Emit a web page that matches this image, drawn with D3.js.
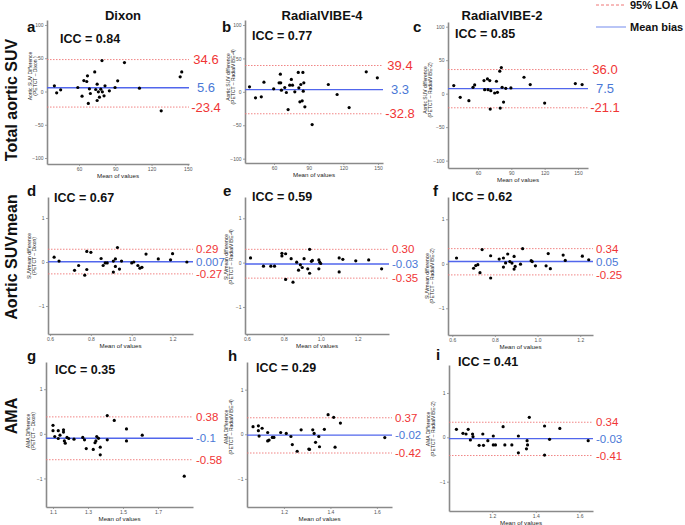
<!DOCTYPE html>
<html><head><meta charset="utf-8">
<script src="https://cdn.jsdelivr.net/npm/d3@7"></script>
<style>
body{margin:0;background:#fff}
svg{display:block}
text{font-family:"Liberation Sans",Arial,Helvetica,sans-serif}
</style>
</head><body>
<svg id="chart" width="685" height="525"></svg>
<script>
// ---------------- DATA ----------------
const columnTitles = ["Dixon", "RadialVIBE-4", "RadialVIBE-2"];
const rowTitles = ["Total aortic SUV", "Aortic SUVmean", "AMA"];
const panelLetters = ["a","b","c","d","e","f","g","h","i"];
const iccValues = ["0.84","0.77","0.85","0.67","0.59","0.62","0.35","0.29","0.41"];
const biasValues = [5.6, 3.3, 7.5, 0.007, -0.03, 0.05, -0.1, -0.02, -0.03];
const biasLabels = ["5.6","3.3","7.5","0.007","-0.03","0.05","-0.1","-0.02","-0.03"];
// upper LOA lines as drawn in the picture (panel a's line sits higher than its printed value)
const loaUpper = [48, 39.4, 36.0, 0.29, 0.30, 0.34, 0.38, 0.37, 0.34];
const loaUpperLabels = ["34.6","39.4","36.0","0.29","0.30","0.34","0.38","0.37","0.34"];
const loaLower = [-23.4, -32.8, -21.1, -0.27, -0.35, -0.25, -0.58, -0.42, -0.41];
const loaLowerLabels = ["-23.4","-32.8","-21.1","-0.27","-0.35","-0.25","-0.58","-0.42","-0.41"];
const yTitleLine1 = ["Aortic SUV Difference","Aortic SUV difference","Aortic SUV difference",
  "SUVmean difference","SUVmean difference","SUVmean difference",
  "AMA Difference","AMA Difference","AMA Difference"];
const yTitleLine2 = ["(PETCT – Dixon )","(PETCT – RadialVIBE-4)","(PETCT – RadialVIBE-2)",
  "(PETCT – Dixon)","(PETCT – RadialVIBE-4)","(PETCT – RadialVIBE-2)",
  "(PETCT – Dixon)","(PETCT – RadialVIBE-4)","(PETCT – RadialVIBE-2)"];
const xTickValues = [[60,90,120,150],[60,90,120,150],[60,90,120,150],
  [0.6,0.8,1.0,1.2],[0.6,0.8,1.0,1.2],[0.6,0.8,1.0,1.2],
  [1.1,1.3,1.5,1.7],[1.2,1.4,1.6],[1.2,1.4,1.6]];
const yTickRow1 = [-100,-50,0,50,100];
const yTickRow23 = [-1,0,1];

// points: [mean of values, difference]
const pointsA = [[39.6,8.5],[41.5,-2],[44.8,2.5],[59,6],[62.5,-7],[64,16.5],[66.4,15],[67,23.5],[67.7,-18],[68.6,4],[69.4,-3],[73,29.5],[73.8,3],[75,11],[75,-13.5],[76,-0.5],[76.9,-8.5],[78,3.5],[79,46.5],[79.3,-0.5],[80.7,-6.5],[81.5,8.5],[85.1,1],[89.8,6],[92,16],[97.6,43.5],[110,5],[128,-29],[143.7,22],[145,29.5]];
const pointsB = [[38.8,7.5],[44,-9],[49,-7.5],[51.3,14.5],[59.7,4.5],[64.4,13.5],[65.5,26.5],[65.8,13.5],[66.4,2.5],[69.3,6.5],[70.7,-1],[72.2,-26.5],[73.6,10],[75,18.5],[76,10],[78,0],[81,29],[81.5,6],[82.4,-15],[83.2,11],[84.4,-13.5],[85,29],[85.3,1],[85.8,13.5],[86.7,-22.5],[93,-49],[107,11],[114.6,-4],[125,-23.5],[139.8,30],[149.4,21]];
const pointsC = [[38.2,12],[44,-5.5],[51.8,-10.5],[55.5,9.5],[57,13],[65.4,19.5],[66,6],[68.5,22],[69,6],[70.6,19.5],[71,-23],[71.5,4.5],[75,1],[76.6,18.5],[77.5,2],[79.6,33.5],[80,-21.5],[81,39],[81.7,9.5],[83,-12.5],[85,8],[89.6,8.5],[101.4,24.5],[107,13.5],[120,-14],[147.6,15],[153.7,13.5]];
const pointsD = [[0.62,0.11],[0.644,0.02],[0.72,-0.19],[0.74,-0.08],[0.77,-0.30],[0.78,0.24],[0.78,-0.17],[0.80,0.22],[0.85,0.08],[0.86,-0.08],[0.87,-0.02],[0.88,-0.02],[0.91,0.02],[0.91,-0.23],[0.92,0.07],[0.93,0.33],[0.92,-0.10],[0.94,-0.16],[0.95,0.02],[1.00,-0.02],[1.01,0.00],[1.03,-0.08],[1.04,-0.14],[1.05,-0.12],[1.07,0.18],[1.13,0.07],[1.19,0.05],[1.20,0.19],[1.27,0.00]];
const pointsE = [[0.62,0.105],[0.69,-0.08],[0.73,-0.08],[0.75,-0.08],[0.79,0.15],[0.79,0.21],[0.81,0.20],[0.81,-0.38],[0.84,0.09],[0.85,-0.44],[0.87,0.01],[0.88,-0.17],[0.89,-0.05],[0.90,-0.11],[0.91,0.09],[0.93,-0.14],[0.94,0.30],[0.94,-0.24],[0.95,0.03],[0.955,0.05],[0.99,0.06],[0.995,0.01],[0.99,-0.14],[1.00,-0.02],[1.10,0.105],[1.12,0.075],[1.10,-0.21],[1.19,0.04],[1.26,0.06],[1.33,-0.14]];
const pointsF = [[0.62,0.13],[0.70,-0.10],[0.71,-0.04],[0.72,-0.02],[0.73,-0.20],[0.74,0.32],[0.78,0.18],[0.78,-0.32],[0.82,0.105],[0.84,-0.075],[0.84,0.13],[0.85,0.02],[0.86,0.22],[0.87,0.05],[0.88,0.015],[0.89,-0.12],[0.895,-0.06],[0.89,0.165],[0.92,-0.01],[0.93,0.34],[0.97,0.07],[0.975,0.05],[0.99,-0.045],[1.04,-0.045],[1.05,0.23],[1.06,-0.11],[1.12,0.195],[1.13,0.075],[1.21,0.17],[1.24,0.09]];
const pointsG = [[1.10,0.19],[1.10,0.07],[1.11,-0.06],[1.13,0.07],[1.13,-0.105],[1.14,-0.03],[1.16,0.09],[1.16,0.04],[1.165,-0.16],[1.17,-0.21],[1.18,-0.08],[1.19,-0.105],[1.22,-0.12],[1.27,-0.08],[1.28,-0.135],[1.29,-0.33],[1.33,-0.35],[1.34,-0.20],[1.345,-0.16],[1.35,-0.06],[1.36,-0.10],[1.37,-0.30],[1.37,-0.47],[1.41,-0.135],[1.41,0.41],[1.45,0.30],[1.52,0.11],[1.52,-0.16],[1.61,-0.03],[1.85,-0.95]];
const pointsH = [[1.067,0.17],[1.09,0.19],[1.09,0.08],[1.093,-0.04],[1.106,0.135],[1.13,0.04],[1.13,-0.15],[1.136,-0.13],[1.15,-0.07],[1.157,-0.07],[1.186,0.04],[1.21,0.02],[1.23,-0.05],[1.236,-0.23],[1.257,-0.38],[1.274,0.10],[1.307,-0.33],[1.31,-0.34],[1.324,0.10],[1.33,0.02],[1.336,-0.18],[1.35,-0.05],[1.353,-0.28],[1.374,0.11],[1.39,0.44],[1.414,0.38],[1.42,-0.29],[1.443,0.25],[1.634,-0.075]];
const pointsI = [[1.036,0.18],[1.066,0.09],[1.08,0.075],[1.09,0.18],[1.10,-0.06],[1.11,0.075],[1.112,0.015],[1.14,-0.18],[1.157,0.075],[1.16,-0.18],[1.18,-0.075],[1.205,0.03],[1.205,-0.17],[1.215,-0.17],[1.25,0.24],[1.258,-0.17],[1.29,-0.17],[1.32,0.03],[1.32,-0.35],[1.357,-0.26],[1.36,-0.075],[1.362,-0.17],[1.37,0.45],[1.44,0.255],[1.44,-0.40],[1.463,-0.045],[1.51,0.20],[1.64,-0.075]];
const allPoints = [pointsA,pointsB,pointsC,pointsD,pointsE,pointsF,pointsG,pointsH,pointsI];

// ---------------- LAYOUT ----------------
const layout = [
  {box:[47,20,189,164],  xd:[33.5,151],   yd:[-109,107.5], ty:[76,32,37]},
  {box:[245,20,383,163], xd:[34.9,154.3], yd:[-106.5,107.5], ty:[77,230,235]},
  {box:[448,22,588,168], xd:[33,159],     yd:[-111,107], ty:[90,427,432]},
  {box:[48,197,193,334], xd:[0.59,1.30],  yd:[-1.636,1.477], ty:[256,31,36]},
  {box:[245,197,389,334],xd:[0.59,1.37],  yd:[-1.61,1.48], ty:[257,228,233]},
  {box:[448,197,593,335],xd:[0.58,1.26],  yd:[-1.6,1.5], ty:[276,429,434]},
  {box:[46,362,193,507], xd:[1.06,1.9],   yd:[-1.64,1.61], ty:[431,30,35]},
  {box:[247,362,392,507],xd:[1.041,1.665],yd:[-1.63,1.62], ty:[427,228,233]},
  {box:[449,365,593,511],xd:[1.002,1.662],yd:[-1.66,1.63], ty:[429,430,435]}
];
const letterPos = [[27,32],[222,32],[413,32],[27,196],[223,196],[433,196],[27,361],[228,361],[436,360]];
const iccPos = [[60,43],[252,40],[455,38],[54,202],[252,201],[452,201],[55,374],[256,372],[458,366]];

const RED = "#f03535", REDLINE = "#ef7777", BLUELINE = "#5166ec", BLUETXT = "#4a78d6";
const AXIS = "#8a8a8a";

const svg = d3.select("#chart");

const colX = [123, 322, 502];
columnTitles.forEach((t,i)=>{
  svg.append("text").attr("x",colX[i]).attr("y",20).attr("text-anchor","middle")
    .attr("font-size",13).attr("font-weight","bold").attr("fill","#111").text(t);
});
const rowY = [100, 257, 416];
rowTitles.forEach((t,i)=>{
  svg.append("text").attr("transform",`translate(17,${rowY[i]}) rotate(-90)`)
    .attr("text-anchor","middle").attr("font-size",16).attr("font-weight","bold")
    .attr("fill","#111").text(t);
});

// legend
svg.append("line").attr("x1",596).attr("x2",626).attr("y1",5).attr("y2",5)
  .attr("stroke",REDLINE).attr("stroke-width",1).attr("stroke-dasharray","3,2");
svg.append("text").attr("x",630).attr("y",9).attr("font-size",11).attr("font-weight","bold").attr("fill","#111").text("95% LOA");
svg.append("line").attr("x1",596).attr("x2",626).attr("y1",27).attr("y2",27)
  .attr("stroke","#8a9ef0").attr("stroke-width",1.2);
svg.append("text").attr("x",630).attr("y",31).attr("font-size",11).attr("font-weight","bold").attr("fill","#111").text("Mean bias");

layout.forEach((L,k)=>{
  const [l,t,r,b] = L.box;
  const row = Math.floor(k/3);
  const x = d3.scaleLinear().domain(L.xd).range([l,r]);
  const y = d3.scaleLinear().domain(L.yd).range([b,t]);
  const g = svg.append("g");

  const xFmt = row===0 ? d3.format("d") : d3.format(".1f");
  const xa = d3.axisBottom(x).tickValues(xTickValues[k]).tickFormat(xFmt).tickSize(2).tickSizeOuter(0).tickPadding(1);
  const ya = d3.axisLeft(y).tickValues(row===0?yTickRow1:yTickRow23).tickFormat(d3.format("d")).tickSize(2).tickSizeOuter(0).tickPadding(1.5);
  const gx = g.append("g").attr("transform",`translate(0,${b})`).call(xa);
  const gy = g.append("g").attr("transform",`translate(${l},0)`).call(ya);
  [gx,gy].forEach(ax=>{
    ax.select(".domain").attr("stroke",AXIS).attr("stroke-width",1.6);
    ax.selectAll(".tick line").attr("stroke",AXIS).attr("stroke-width",0.8);
    ax.selectAll(".tick text").attr("fill","#555").attr("font-size",5).attr("font-family","Liberation Sans, Arial, sans-serif");
  });

  g.append("line").attr("x1",l).attr("x2",r).attr("y1",y(loaUpper[k])).attr("y2",y(loaUpper[k]))
    .attr("stroke",REDLINE).attr("stroke-width",0.9).attr("stroke-dasharray","1.5,1.5");
  g.append("line").attr("x1",l).attr("x2",r).attr("y1",y(loaLower[k])).attr("y2",y(loaLower[k]))
    .attr("stroke",REDLINE).attr("stroke-width",0.9).attr("stroke-dasharray","1.5,1.5");
  g.append("line").attr("x1",l).attr("x2",r).attr("y1",y(biasValues[k])).attr("y2",y(biasValues[k]))
    .attr("stroke",BLUELINE).attr("stroke-width",1.4);

  g.selectAll("circle").data(allPoints[k]).join("circle")
    .attr("cx",d=>x(d[0])).attr("cy",d=>y(d[1])).attr("r",1.6).attr("fill","#000");

  const fs = row===0 ? 13 : 11.5;
  const anchor = row===0 ? "middle" : "start";
  const lx = row===0 ? r+17 : r+3;
  const addLab = (v,txt,col)=> g.append("text").attr("x",lx).attr("y",y(v)).attr("dy","0.35em")
    .attr("text-anchor",anchor).attr("font-size",fs).attr("fill",col).text(txt);
  addLab(loaUpper[k],loaUpperLabels[k],RED);
  addLab(biasValues[k],biasLabels[k],BLUETXT);
  addLab(loaLower[k],loaLowerLabels[k],RED);

  g.append("text").attr("x",(l+r)/2).attr("y",b+14).attr("text-anchor","middle")
    .attr("font-size",6.2).attr("fill","#222").text("Mean of values");
  const [cy,x1,x2] = L.ty;
  g.append("text").attr("transform",`translate(${x1},${cy}) rotate(-90)`).attr("text-anchor","middle")
    .attr("font-size",5).attr("fill","#222").text(yTitleLine1[k]);
  g.append("text").attr("transform",`translate(${x2},${cy}) rotate(-90)`).attr("text-anchor","middle")
    .attr("font-size",5).attr("fill","#222").text(yTitleLine2[k]);

  svg.append("text").attr("x",letterPos[k][0]).attr("y",letterPos[k][1]).attr("font-size",15)
    .attr("font-weight","bold").attr("fill","#111").text(panelLetters[k]);
  svg.append("text").attr("x",iccPos[k][0]).attr("y",iccPos[k][1]).attr("font-size",12.5)
    .attr("font-weight","bold").attr("fill","#111").text("ICC = " + iccValues[k]);
});
</script>
</body></html>
